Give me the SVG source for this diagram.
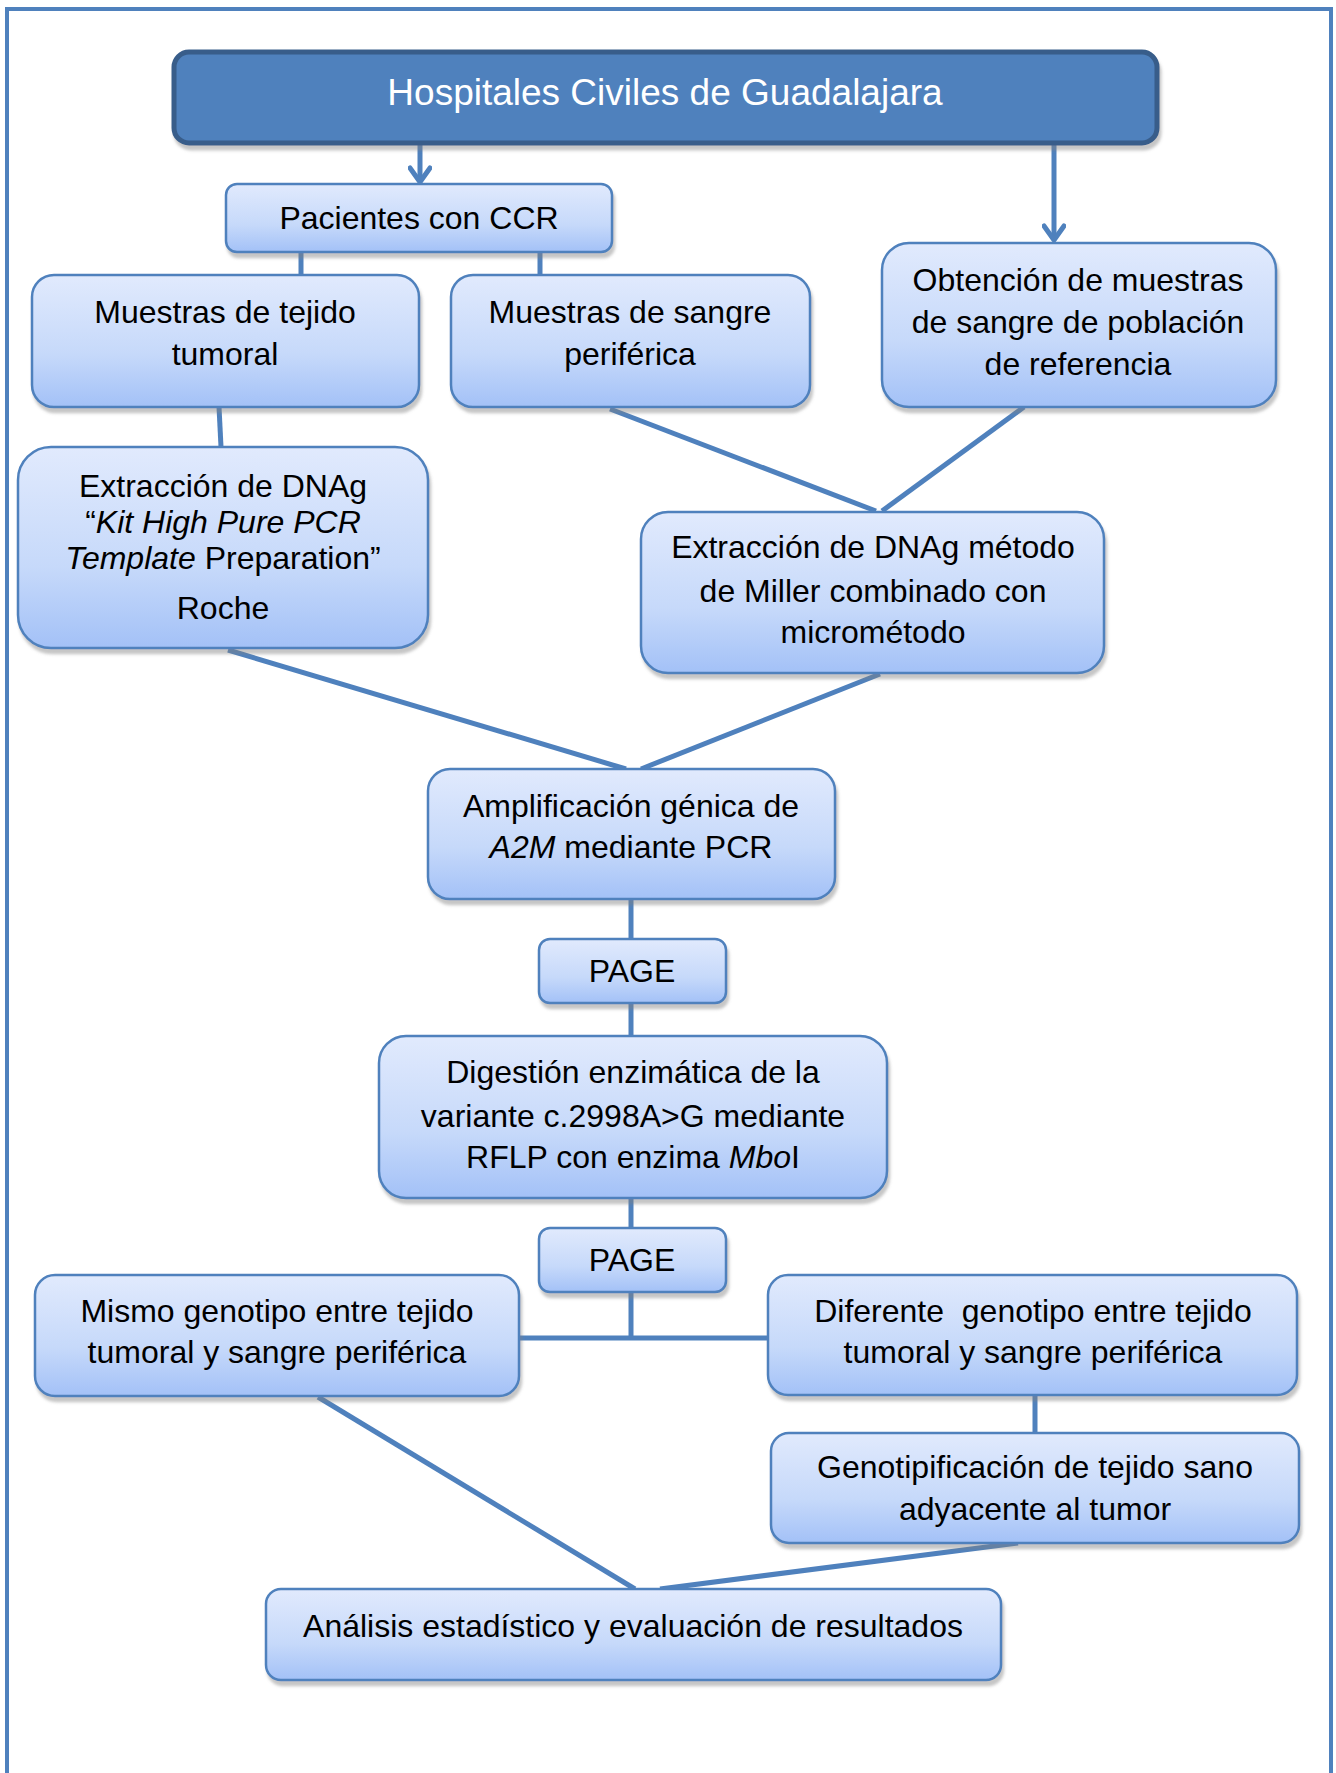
<svg xmlns="http://www.w3.org/2000/svg" width="1336" height="1773" viewBox="0 0 1336 1773">
<defs>
<linearGradient id="boxGrad" x1="0" y1="0" x2="0" y2="1">
<stop offset="0" stop-color="#E1EAFD"/>
<stop offset="0.6" stop-color="#C6D9FA"/>
<stop offset="1" stop-color="#A3C1F7"/>
</linearGradient>
<filter id="shadow" x="-5%" y="-5%" width="115%" height="125%">
<feDropShadow dx="2" dy="5" stdDeviation="1.5" flood-color="#808080" flood-opacity="0.45"/>
</filter>
<marker id="chev" viewBox="0 0 24 24" markerUnits="userSpaceOnUse" markerWidth="24" markerHeight="24" refX="19" refY="12" orient="auto">
<path d="M5,2 L19,12 L5,22" fill="none" stroke="#4F81BD" stroke-width="5" stroke-linecap="round" stroke-linejoin="round"/>
</marker>
</defs>
<style>
.box{fill:url(#boxGrad);stroke:#4F81BD;stroke-width:2.5;filter:url(#shadow)}
.t{font-family:"Liberation Sans",Arial,sans-serif;font-size:32px;fill:#000;text-anchor:middle}
.i{font-style:italic}
.c{stroke:#4F81BD;stroke-width:5;fill:none}
</style>
<rect width="1336" height="1773" fill="#fff"/>
<path d="M7,1790 L7,9 L1331,9 L1331,1790" fill="none" stroke="#4F81BD" stroke-width="4"/>

<g id="connectors">
<line class="c" x1="420" y1="145" x2="420" y2="182" marker-end="url(#chev)"/>
<line class="c" x1="1054" y1="145" x2="1054" y2="240" marker-end="url(#chev)"/>
<line class="c" x1="301" y1="252" x2="301" y2="275"/>
<line class="c" x1="540" y1="252" x2="540" y2="275"/>
<line class="c" x1="219" y1="407" x2="221" y2="447"/>
<line class="c" x1="610" y1="409" x2="876" y2="511"/>
<line class="c" x1="1024" y1="407" x2="882" y2="511"/>
<line class="c" x1="228" y1="650" x2="626" y2="769"/>
<line class="c" x1="880" y1="674" x2="641" y2="769"/>
<line class="c" x1="631" y1="899" x2="631" y2="939"/>
<line class="c" x1="631" y1="1003" x2="631" y2="1036"/>
<line class="c" x1="631" y1="1198" x2="631" y2="1228"/>
<line class="c" x1="631" y1="1292" x2="631" y2="1338"/>
<line class="c" x1="519" y1="1338" x2="768" y2="1338"/>
<line class="c" x1="1035" y1="1395" x2="1035" y2="1433"/>
<line class="c" x1="318" y1="1397" x2="635" y2="1589"/>
<line class="c" x1="1018" y1="1543" x2="660" y2="1589" stroke-width="7"/>
</g>

<g id="title">
<rect x="174" y="52" width="983" height="91" rx="15" fill="#4F81BD" stroke="#385D8A" stroke-width="5" filter="url(#shadow)"/>
<text class="t" x="665" y="105" style="font-size:37px;fill:#fff">Hospitales Civiles de Guadalajara</text>
</g>
<g id="pacientes">
<rect class="box" x="226" y="184" width="386" height="68" rx="11"/>
<text class="t" x="419" y="229">Pacientes con CCR</text>
</g>
<g id="tejido">
<rect class="box" x="32" y="275" width="387" height="132" rx="22"/>
<text class="t" x="225" y="323">Muestras de tejido</text>
<text class="t" x="225" y="365">tumoral</text>
</g>
<g id="sangre">
<rect class="box" x="451" y="275" width="359" height="132" rx="22"/>
<text class="t" x="630" y="323">Muestras de sangre</text>
<text class="t" x="630" y="365">periférica</text>
</g>
<g id="obtencion">
<rect class="box" x="882" y="243" width="394" height="164" rx="27"/>
<text class="t" x="1078" y="291">Obtención de muestras</text>
<text class="t" x="1078" y="333">de sangre de población</text>
<text class="t" x="1078" y="375">de referencia</text>
</g>
<g id="kit">
<rect class="box" x="18" y="447" width="410" height="201" rx="33"/>
<text class="t" x="223" y="497">Extracción de DNAg</text>
<text class="t" x="223" y="533">“<tspan class="i">Kit High Pure PCR</tspan></text>
<text class="t" x="223" y="569"><tspan class="i">Template</tspan> Preparation”</text>
<text class="t" x="223" y="619">Roche</text>
</g>
<g id="miller">
<rect class="box" x="641" y="512" width="463" height="161" rx="27"/>
<text class="t" x="873" y="558">Extracción de DNAg método</text>
<text class="t" x="873" y="602">de Miller combinado con</text>
<text class="t" x="873" y="643">micrométodo</text>
</g>
<g id="amplificacion">
<rect class="box" x="428" y="769" width="407" height="130" rx="22"/>
<text class="t" x="631" y="817">Amplificación génica de</text>
<text class="t" x="631" y="858"><tspan class="i">A2M</tspan> mediante PCR</text>
</g>
<g id="page1">
<rect class="box" x="539" y="939" width="187" height="64" rx="11"/>
<text class="t" x="632" y="982">PAGE</text>
</g>
<g id="digestion">
<rect class="box" x="379" y="1036" width="508" height="162" rx="27"/>
<text class="t" x="633" y="1083">Digestión enzimática de la</text>
<text class="t" x="633" y="1127">variante c.2998A&gt;G mediante</text>
<text class="t" x="633" y="1168">RFLP con enzima <tspan class="i">Mbo</tspan>I</text>
</g>
<g id="page2">
<rect class="box" x="539" y="1228" width="187" height="64" rx="11"/>
<text class="t" x="632" y="1271">PAGE</text>
</g>
<g id="mismo">
<rect class="box" x="35" y="1275" width="484" height="121" rx="20"/>
<text class="t" x="277" y="1322">Mismo genotipo entre tejido</text>
<text class="t" x="277" y="1363">tumoral y sangre periférica</text>
</g>
<g id="diferente">
<rect class="box" x="768" y="1275" width="529" height="120" rx="20"/>
<text class="t" x="1033" y="1322" xml:space="preserve">Diferente  genotipo entre tejido</text>
<text class="t" x="1033" y="1363">tumoral y sangre periférica</text>
</g>
<g id="genotipificacion">
<rect class="box" x="771" y="1433" width="528" height="110" rx="18"/>
<text class="t" x="1035" y="1478">Genotipificación de tejido sano</text>
<text class="t" x="1035" y="1520">adyacente al tumor</text>
</g>
<g id="analisis">
<rect class="box" x="266" y="1589" width="735" height="91" rx="15"/>
<text class="t" x="633" y="1637">Análisis estadístico y evaluación de resultados</text>
</g>
</svg>
